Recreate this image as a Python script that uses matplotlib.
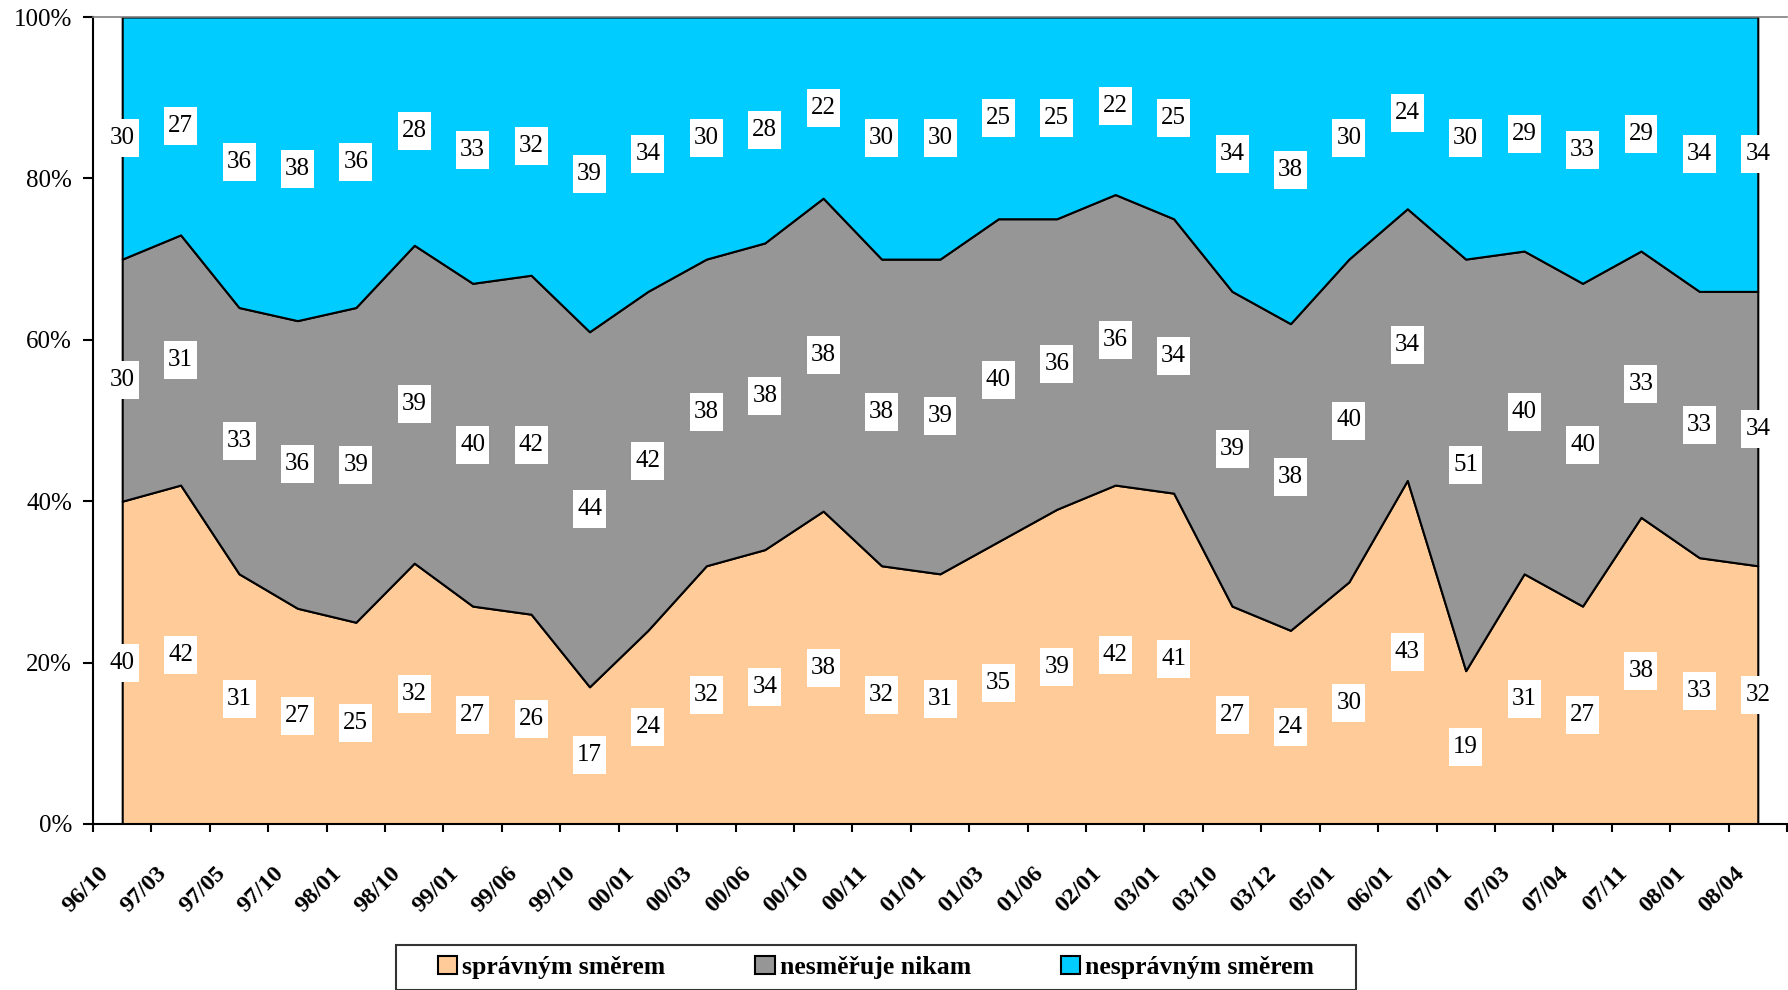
import numpy as np
import matplotlib
matplotlib.use('Agg')
import matplotlib.pyplot as plt
from matplotlib.patches import Patch
from matplotlib.path import Path
from matplotlib.transforms import ScaledTranslation

plt.rcParams['font.family'] = ['Liberation Serif', 'DejaVu Serif']

# survey waves
waves = ['96/10', '97/03', '97/05', '97/10', '98/01', '98/10', '99/01', '99/06',
         '99/10', '00/01', '00/03', '00/06', '00/10', '00/11', '01/01', '01/03',
         '01/06', '02/01', '03/01', '03/10', '03/12', '05/01', '06/01', '07/01',
         '07/03', '07/04', '07/11', '08/01', '08/04']

spravnym = [40, 42, 31, 27, 25, 32, 27, 26, 17, 24, 32, 34, 38, 32, 31, 35,
            39, 42, 41, 27, 24, 30, 43, 19, 31, 27, 38, 33, 32]
nikam = [30, 31, 33, 36, 39, 39, 40, 42, 44, 42, 38, 38, 38, 38, 39, 40,
         36, 36, 34, 39, 38, 40, 34, 51, 40, 40, 33, 33, 34]
nespravnym = [30, 27, 36, 38, 36, 28, 33, 32, 39, 34, 30, 28, 22, 30, 30, 25,
              25, 22, 25, 34, 38, 30, 24, 30, 29, 33, 29, 34, 34]

series_names = ['správným směrem', 'nesměřuje nikam', 'nesprávným směrem']
colors = ['#FFCC99', '#969696', '#00CCFF']


def rect_box(padx, pady):
    """Rectangle box style with separate x/y padding (in fontsize units)."""
    def box(x0, y0, width, height, mutation_size):
        dx = padx * mutation_size
        dy = pady * mutation_size
        x0 -= dx
        y0 -= dy
        x1 = x0 + width + 2 * dx
        y1 = y0 + height + 2 * dy
        return Path([(x0, y0), (x1, y0), (x1, y1), (x0, y1), (x0, y0)], closed=True)
    return box


data = np.array([spravnym, nikam, nespravnym], dtype=float)
share = data / data.sum(axis=0)          # 100% stacked
x = np.arange(len(waves)) + 0.5

fig = plt.figure(figsize=(17.88, 9.9), dpi=100)
ax = fig.add_axes([93 / 1788, 166 / 990, 1694 / 1788, 807 / 990])

ax.stackplot(x, share, colors=colors, edgecolor='black', linewidth=1.5)

# value labels in the middle of each band
bottoms = np.vstack([np.zeros(len(x)), np.cumsum(share, axis=0)[:-1]])
mids = bottoms + share / 2
for k in range(3):
    for i in range(len(x)):
        ax.text(x[i], mids[k, i], str(int(data[k, i])), ha='center', va='center',
                fontsize=18, zorder=5,
                bbox=dict(boxstyle=rect_box(0.16, 0.32), facecolor='white',
                          edgecolor='none'))

ax.set_xlim(0, len(waves))
ax.set_ylim(0, 1)
ax.set_yticks(np.arange(0, 1.01, 0.2))
ax.set_yticklabels([f'{int(round(v * 100))}%' for v in np.arange(0, 1.01, 0.2)],
                   fontsize=18)
ax.tick_params(axis='y', direction='out', length=7, width=1.5, pad=8)

ax.set_xticks(np.arange(len(waves) + 1))
ax.set_xticklabels([])
ax.tick_params(axis='x', which='major', direction='out', length=6, width=1.5)
ax.set_xticks(x, minor=True)
ax.set_xticklabels(waves, minor=True, rotation=45, ha='right', va='center',
                   rotation_mode='anchor', fontsize=17.5, fontweight='bold')
ax.tick_params(axis='x', which='minor', length=0, pad=33)
shift = ScaledTranslation(-17 / 100, 0, fig.dpi_scale_trans)
for lbl in ax.get_xticklabels(minor=True):
    lbl.set_transform(lbl.get_transform() + shift)

for side in ['left', 'bottom']:
    ax.spines[side].set_linewidth(1.5)
ax.spines['top'].set_color('#808080')
ax.spines['top'].set_linewidth(1.2)
ax.spines['right'].set_visible(False)

handles = [Patch(facecolor=c, edgecolor='black', linewidth=1.5) for c in colors]
leg = fig.legend(handles, series_names, loc='upper center',
                 bbox_to_anchor=(876 / 1788, 1 - 945 / 990), ncol=3,
                 prop={'size': 18.5, 'weight': 'bold'}, frameon=True,
                 fancybox=False, edgecolor='black', borderpad=0.42,
                 handlelength=0.74, handleheight=0.74, handletextpad=0.2,
                 columnspacing=3.5, borderaxespad=0)
leg.get_frame().set_linewidth(1.5)
leg.legendPatch.set_boxstyle(rect_box(1.23, 0))

fig.savefig('out.png', dpi=100)
